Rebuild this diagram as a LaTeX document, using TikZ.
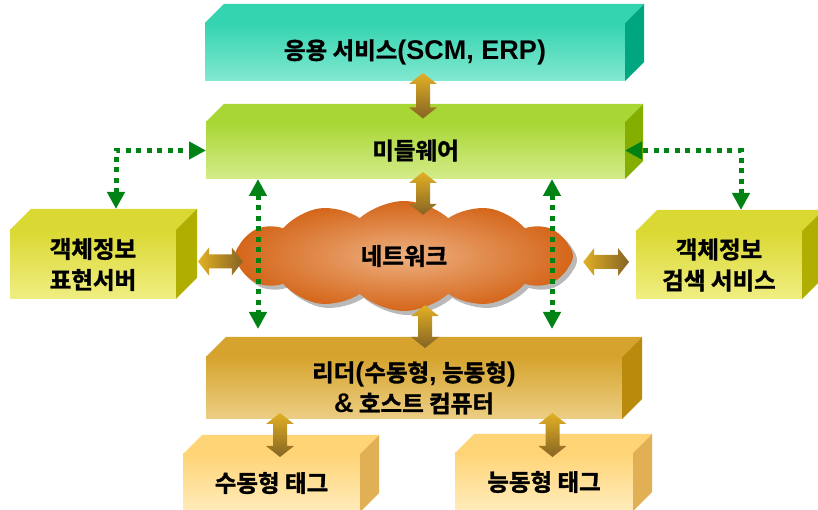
\documentclass[tikz,border=0pt]{standalone}
\usepackage{fontspec}
\setmainfont{Noto Sans CJK KR}
\newfontfamily\krfont{Noto Sans CJK KR}[BoldFont={* Bold}, BoldFeatures={FakeBold=1.5}]
\newfontfamily\latfont{Liberation Sans}[Scale=1.15]
\newcommand{\lt}[1]{{\latfont\bfseries #1}}
\usetikzlibrary{calc}
\usetikzlibrary{shapes.symbols}
\usetikzlibrary{arrows.meta}

\definecolor{appTop}{RGB}{52,212,176}
\definecolor{appBot}{RGB}{130,232,208}
\definecolor{appSide}{RGB}{0,166,128}
\definecolor{midTop}{RGB}{168,214,52}
\definecolor{midBot}{RGB}{212,236,138}
\definecolor{midSide}{RGB}{132,174,0}
\definecolor{objTop}{RGB}{218,216,50}
\definecolor{objBot}{RGB}{240,238,130}
\definecolor{objSide}{RGB}{176,174,0}
\definecolor{rdrTop}{RGB}{214,164,46}
\definecolor{rdrBot}{RGB}{236,206,132}
\definecolor{rdrSide}{RGB}{186,138,12}
\definecolor{tagTop}{RGB}{255,212,118}
\definecolor{tagBot}{RGB}{255,236,188}
\definecolor{tagSide}{RGB}{226,176,84}
\definecolor{netOut}{RGB}{212,102,26}
\definecolor{netIn}{RGB}{238,176,128}
\definecolor{arrGold}{RGB}{226,176,36}
\definecolor{arrBrown}{RGB}{134,100,36}
\definecolor{linkGreen}{RGB}{0,130,20}

\tikzset{
  face/.style={rectangle, inner sep=0pt, outer sep=0pt, align=center,
    font=\fontsize{23.5}{31}\selectfont\krfont\bfseries},
  appface/.style={face, top color=appTop, bottom color=appBot},
  midface/.style={face, top color=midTop, bottom color=midBot},
  objface/.style={face, top color=objTop, bottom color=objBot},
  rdrface/.style={face, top color=rdrTop, bottom color=rdrBot},
  tagface/.style={face, top color=tagTop, bottom color=tagBot},
  netcloud/.style={cloud, cloud puffs=12, cloud puff arc=85, aspect=3,
    minimum width=338pt, minimum height=110pt, inner sep=0pt,
    font=\fontsize{23.5}{31}\selectfont\krfont\bfseries},
  dotlink/.style={draw=linkGreen, line width=5pt, dash pattern=on 5pt off 5.5pt,
    {Triangle[width=17pt,length=17pt]}-{Triangle[width=17pt,length=17pt]}}
}

\begin{document}
\begin{tikzpicture}[x=1pt,y=1pt]
\newcommand{\boxfaces}[4]{
  \fill[#3] (#1.north west) -- ++(#2,#2) -- ($(#1.north east)+(#2,#2)$) -- (#1.north east) -- cycle;
  \fill[#4] (#1.north east) -- ++(#2,#2) -- ($(#1.south east)+(#2,#2)$) -- (#1.south east) -- cycle;
}
\newcommand{\brarrowv}[2]{
  \shade[top color=arrGold, bottom color=arrBrown] (#1) -- ++(14,-11) -- ++(-7,0)
    -- ($(#2)+(7,11)$) -- ++(7,0) -- (#2) -- ++(-14,11) -- ++(7,0)
    -- ($(#1)+(-7,-11)$) -- ++(-7,0) -- cycle;
}
\newcommand{\brarrowh}[2]{
  \shade[left color=arrGold, right color=arrBrown] (#1) -- ++(11,14) -- ++(0,-7)
    -- ($(#2)+(-11,7)$) -- ++(0,7) -- (#2) -- ++(-11,-14) -- ++(0,7)
    -- ($(#1)+(11,-7)$) -- ++(0,-7) -- cycle;
}

\useasboundingbox (0,0) rectangle (818,510);

% boxes
\node[appface, minimum width=420pt, minimum height=58pt] (app) at (415,458) {응용 서비스\lt{(SCM, ERP)}};
\boxfaces{app}{19}{appTop}{appSide}
\node[midface, minimum width=419pt, minimum height=57pt] (mid) at (415.5,359.5) {미들웨어};
\boxfaces{mid}{18}{midTop}{midSide}
\node[objface, minimum width=166pt, minimum height=69pt] (objL) at (93,245.5) {객체정보\\표현서버};
\boxfaces{objL}{21}{objTop}{objSide}
\node[objface, minimum width=166pt, minimum height=68pt] (objR) at (719,245) {객체정보\\검색 서비스};
\boxfaces{objR}{21}{objTop}{objSide}
\node[rdrface, minimum width=416pt, minimum height=62pt] (rdr) at (414,122) {리더\lt{(}수동형\lt{,} 능동형\lt{)}\\\lt{\&} 호스트 컴퓨터};
\boxfaces{rdr}{20}{rdrTop}{rdrSide}
\node[tagface, minimum width=177pt, minimum height=58pt] (tagP) at (271.5,27) {수동형 태그};
\boxfaces{tagP}{19}{tagTop}{tagSide}
\node[tagface, minimum width=178pt, minimum height=58pt] (tagA) at (544,28) {능동형 태그};
\boxfaces{tagA}{19}{tagTop}{tagSide}

% network
\node[netcloud, fill=gray!55] (netshadow) at (408,250) {};
\node[netcloud, inner color=netIn, outer color=netOut] (net) at (404,254) {네트워크};

% gold links
\coordinate (a1) at ($(app.south)+(8,8)$);
\coordinate (a2) at ($(mid.north)+(7.5,3.5)$);
\coordinate (b1) at ($(mid.south)+(7.5,7)$);
\coordinate (b2) at ($(net.north)+(19,-14)$);
\coordinate (c1) at ($(net.south)+(21,6)$);
\coordinate (c2) at ($(rdr.north)+(11,9)$);
\coordinate (d1) at ($(objL.east)+(22,3)$);
\coordinate (d2) at ($(net.west)+(8,-5.5)$);
\coordinate (e1) at ($(net.east)+(10,-6)$);
\coordinate (e2) at ($(objR.west)+(-7,3)$);
\coordinate (f1) at ($(rdr.south west)+(74,6)$);
\coordinate (f2) at ($(tagP.north)+(8.5,-3)$);
\coordinate (g1) at ($(rdr.south east)+(-69.5,6)$);
\coordinate (g2) at ($(tagA.north)+(8.5,-4)$);
\brarrowv{a1}{a2}
\brarrowv{b1}{b2}
\brarrowv{c1}{c2}
\brarrowh{d1}{d2}
\brarrowh{e1}{e2}
\brarrowv{f1}{f2}
\brarrowv{g1}{g2}

% green links
\coordinate (objLtop) at ($(objL.north)+(23,21)$);
\coordinate (objRtop) at ($(objR.north)+(22,21)$);
\draw[dotlink] (objLtop) |- (mid.west);
\draw[dotlink] (objRtop) |- (mid.east);
\draw[dotlink] ($(mid.south west)+(52,0)$) -- ($(rdr.north west)+(52,28)$);
\draw[dotlink] ($(mid.south east)+(-73,0)$) -- ($(rdr.north east)+(-70,28)$);

\end{tikzpicture}
\end{document}
